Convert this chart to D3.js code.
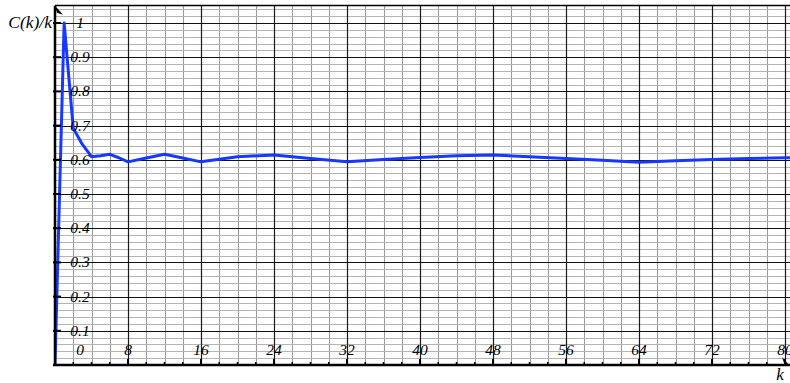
<!DOCTYPE html>
<html><head><meta charset="utf-8">
<script src="https://cdn.jsdelivr.net/npm/d3@7"></script>
<style>html,body{margin:0;padding:0;background:#fff;}svg{display:block;}</style>
</head><body>
<script>
const kValues = [0, 1, 2, 3, 4, 5, 6, 7, 8, 10, 12, 14, 16, 20, 24, 28, 32, 36, 40, 44, 48, 52, 56, 60, 64, 68, 72, 76, 80, 82];
const ratioValues = [0, 1, 0.692, 0.645, 0.609, 0.612, 0.616, 0.606, 0.594, 0.605, 0.616, 0.605, 0.594, 0.609, 0.614, 0.604, 0.594, 0.601, 0.607, 0.612, 0.614, 0.609, 0.604, 0.599, 0.593, 0.597, 0.601, 0.604, 0.606, 0.607];
const xTickLabels = ["0", "8", "16", "24", "32", "40", "48", "56", "64", "72", "80"];
const yTickLabels = ["0.1", "0.2", "0.3", "0.4", "0.5", "0.6", "0.7", "0.8", "0.9", "1"];
const yAxisTitle = "C(k)/k";
const xAxisTitle = "k";

(function () {
const W = 790, H = 383;
const svg = d3.select("body").append("svg").attr("width", W).attr("height", H);
const x = d3.scaleLinear().domain([0, 80]).range([55, 785]);
const y = d3.scaleLinear().domain([0, 1]).range([365, 23]);
const pL = x(0), pR = W, pT = y(1.053), pB = y(0);

svg.append("defs").append("clipPath").attr("id", "plot")
  .append("rect").attr("x", pL).attr("y", pT).attr("width", pR - pL).attr("height", pB - pT);
const g = svg.append("g").attr("clip-path", "url(#plot)");

const vMinor = d3.range(2, 84, 2).filter(v => v % 8 !== 0);
const vMajor = d3.range(8, 88, 8);
const hMinor = d3.range(1, 53).map(i => i * 0.02).filter(v => Math.abs(v * 10 - Math.round(v * 10)) > 1e-6);
const hMajor = d3.range(1, 11).map(i => i / 10);

g.selectAll(".vmin").data(vMinor).join("line")
  .attr("x1", d => Math.round(x(d)) + 0.5).attr("x2", d => Math.round(x(d)) + 0.5)
  .attr("y1", pT).attr("y2", pB).attr("stroke", "#9a9a9a").attr("stroke-width", 1.1);
g.selectAll(".hmin").data(hMinor).join("line")
  .attr("y1", d => Math.round(y(d)) + 0.5).attr("y2", d => Math.round(y(d)) + 0.5)
  .attr("x1", pL).attr("x2", pR).attr("stroke", "#b4b4b4").attr("stroke-width", 1.1);
g.selectAll(".vmaj").data(vMajor).join("line")
  .attr("x1", d => Math.round(x(d)) + 0.5).attr("x2", d => Math.round(x(d)) + 0.5)
  .attr("y1", pT).attr("y2", pB).attr("stroke", "#1a1a1a").attr("stroke-width", 1.2);
g.selectAll(".hmaj").data(hMajor).join("line")
  .attr("y1", d => Math.round(y(d)) + 0.5).attr("y2", d => Math.round(y(d)) + 0.5)
  .attr("x1", pL).attr("x2", pR).attr("stroke", "#111").attr("stroke-width", 1.2);
svg.append("line").attr("x1", pL).attr("x2", pR).attr("y1", Math.round(pT) + 0.5).attr("y2", Math.round(pT) + 0.5)
  .attr("stroke", "#000").attr("stroke-width", 1.5);

const line = d3.line().x((d, i) => x(kValues[i])).y(d => y(d));
g.append("path").datum(ratioValues).attr("d", line)
  .attr("fill", "none").attr("stroke", "#1638ff").attr("stroke-width", 3).attr("stroke-linejoin", "round");

svg.append("line").attr("x1", pL).attr("x2", pL).attr("y1", pT + 1).attr("y2", pB + 1)
  .attr("stroke", "#000").attr("stroke-width", 2.5);
svg.append("line").attr("x1", pL - 2).attr("x2", pR).attr("y1", pB).attr("y2", pB)
  .attr("stroke", "#000").attr("stroke-width", 2.5);
svg.append("path").attr("d", `M${pL},${pT + 1} L${pL + 8},${pT + 10} L${pL + 2},${pT + 8} Z`).attr("fill", "#000");
svg.append("path").attr("d", `M${pR},${pB + 1} L${pR - 8},${pB - 8} L${pR - 6},${pB - 2} Z`).attr("fill", "#000");

svg.selectAll(".ytick").data(hMajor).join("line")
  .attr("x1", pL - 2).attr("x2", pL + 6).attr("y1", d => y(d)).attr("y2", d => y(d))
  .attr("stroke", "#000").attr("stroke-width", 2);
svg.selectAll(".xtick").data(vMajor.filter(v => v <= 80)).join("line")
  .attr("x1", d => x(d)).attr("x2", d => x(d)).attr("y1", pB - 6).attr("y2", pB + 1)
  .attr("stroke", "#000").attr("stroke-width", 2);
svg.selectAll(".xmtick").data(vMinor.filter(v => v <= 80)).join("line")
  .attr("x1", d => x(d)).attr("x2", d => x(d)).attr("y1", pB - 3).attr("y2", pB)
  .attr("stroke", "#000").attr("stroke-width", 1.5);

const font = "'Liberation Serif', 'Times New Roman', serif";
svg.selectAll(".ylab").data(yTickLabels).join("text")
  .attr("x", 80).attr("y", (d, i) => y(hMajor[i]) + 5)
  .attr("text-anchor", "middle").attr("font-family", font).attr("font-style", "italic")
  .attr("font-size", 15.5).attr("fill", "#000").text(d => d);
svg.selectAll(".xlab").data(xTickLabels).join("text")
  .attr("x", (d, i) => i === 0 ? 80 : x(+d)).attr("y", pB - 10)
  .attr("text-anchor", "middle").attr("font-family", font).attr("font-style", "italic")
  .attr("font-size", 15.5).attr("fill", "#000").text(d => d);
svg.append("text").attr("x", 52).attr("y", y(1) + 5).attr("text-anchor", "end")
  .attr("font-family", font).attr("font-style", "italic").attr("font-size", 17.5).text(yAxisTitle);
svg.append("text").attr("x", 780).attr("y", 380).attr("text-anchor", "middle")
  .attr("font-family", font).attr("font-style", "italic").attr("font-size", 17).text(xAxisTitle);
})();
</script>
</body></html>
